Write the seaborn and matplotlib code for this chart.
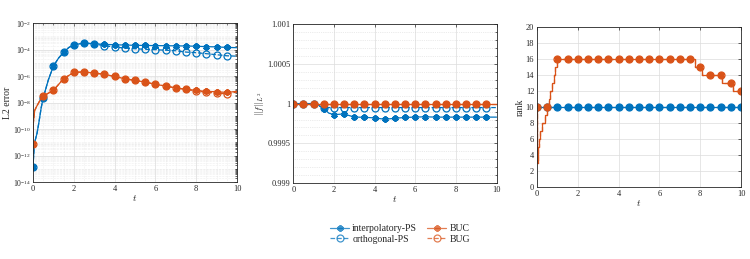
import numpy as np
import pandas as pd
import seaborn as sns
import matplotlib
matplotlib.use("Agg")
import matplotlib.pyplot as plt
from matplotlib.ticker import MultipleLocator, LogLocator, NullFormatter
from matplotlib.lines import Line2D

# ---------------- data ----------------
# panel 1 : L2 error, log10 values
t_err_ps = [0, 0.05, 0.1, 0.2, 0.3, 0.4, 0.5, 0.75, 1, 1.25, 1.5, 1.75, 2, 2.5, 3, 3.5, 4,
            4.5, 5, 5.5, 6, 6.5, 7, 7.5, 8, 8.5, 9, 9.5, 10]
log_err_interp = [-12.87, -11.5, -10.9, -10.3, -9.4, -8.4, -7.64, -6.3, -5.25, -4.65, -4.21, -3.85,
                  -3.64, -3.51, -3.56, -3.61, -3.64, -3.66, -3.68, -3.69, -3.70, -3.71, -3.72,
                  -3.73, -3.75, -3.78, -3.80, -3.84, -3.86]
log_err_ortho = [-12.87, -11.5, -10.9, -10.3, -9.4, -8.4, -7.64, -6.3, -5.25, -4.65, -4.21, -3.85,
                 -3.64, -3.51, -3.58, -3.71, -3.81, -3.89, -3.94, -3.98, -4.01, -4.05, -4.09,
                 -4.19, -4.24, -4.31, -4.39, -4.47, -4.50]
t_err_bu = [0, 0.02, 0.08, 0.18, 0.34, 0.5, 1, 1.5, 2, 2.5, 3, 3.5, 4, 4.5, 5, 5.5, 6, 6.5,
            7, 7.5, 8, 8.5, 9, 9.5, 10]
log_err_buc = [-11.16, -9.5, -8.6, -8.29, -7.84, -7.51, -7.08, -6.2, -5.72, -5.69, -5.77, -5.87,
               -6.03, -6.2, -6.33, -6.45, -6.63, -6.75, -6.9, -7.0, -7.08, -7.16, -7.18, -7.24, -7.15]
log_err_bug = [-11.16, -9.5, -8.6, -8.29, -7.84, -7.51, -7.08, -6.2, -5.72, -5.69, -5.77, -5.87,
               -6.03, -6.2, -6.33, -6.45, -6.63, -6.75, -6.9, -7.0, -7.12, -7.22, -7.28, -7.35, -7.2]

# panel 2 : norm
t_norm = [0, 0.5, 1, 1.25, 1.5, 1.75, 2, 2.5, 3, 3.5, 4, 4.5, 5, 5.5, 6, 6.5, 7, 7.5, 8, 8.5,
          9, 9.5, 10]
norm_interp = [1, 1, 1, 0.99998, 0.999937, 0.99988, 0.999861, 0.99987, 0.99983, 0.999828,
               0.99982, 0.999803, 0.999815, 0.999826, 0.99983, 0.999834, 0.99983, 0.99983,
               0.99983, 0.99983, 0.99983, 0.99983, 0.99983]
norm_ortho = [1, 1, 1, 0.99997, 0.99995, 0.99995, 0.99995, 0.99995, 0.99995, 0.99995, 0.99995,
              0.99995, 0.99995, 0.99995, 0.99995, 0.99995, 0.99995, 0.99995, 0.99995, 0.99995,
              0.99995, 0.99995, 0.99995]
norm_buc = [1] * len(t_norm)
norm_bug = [1] * len(t_norm)

# panel 3 : rank
t_rank_ps = [0, 0.5, 1, 1.5, 2, 2.5, 3, 3.5, 4, 4.5, 5, 5.5, 6, 6.5, 7, 7.5, 8, 8.5, 9, 9.5, 10]
rank_ps = [10] * len(t_rank_ps)
t_rank_bu = [0, 0.001, 0.05, 0.1, 0.16, 0.26, 0.38, 0.5, 0.51, 0.59, 0.66, 0.74, 0.84, 0.9,
             0.98, 1, 1.5, 2, 2.5, 3, 3.5, 4, 4.5, 5, 5.5, 6, 6.5, 7, 7.5, 7.75, 8, 8.08, 8.5,
             9, 9.07, 9.5, 9.6, 10]
rank_bu = [10, 3, 5, 6, 7, 8, 9, 10, 10, 11, 12, 13, 14, 15, 16, 16, 16, 16, 16, 16, 16, 16, 16,
           16, 16, 16, 16, 16, 16, 15, 15, 14, 14, 14, 13, 13, 12, 12]
t_rank_bu_mark = [0, 0.5, 1, 1.5, 2, 2.5, 3, 3.5, 4, 4.5, 5, 5.5, 6, 6.5, 7, 7.5, 8, 8.5, 9, 9.5, 10]

methods = ["interpolatory-PS", "orthogonal-PS", "BUC", "BUG"]

# ---------------- style ----------------
sns.set_theme(style="white")
plt.rcParams["font.family"] = ["Liberation Serif", "DejaVu Serif"]
plt.rcParams["mathtext.fontset"] = "cm"
plt.rcParams["xtick.direction"] = "in"
plt.rcParams["ytick.direction"] = "in"

blue = "#0072BD"
orange = "#D95319"
colors = {"interpolatory-PS": blue, "orthogonal-PS": blue, "BUC": orange, "BUG": orange}
dashes = {"interpolatory-PS": "-", "orthogonal-PS": "--", "BUC": "-", "BUG": "--"}
marks = {"interpolatory-PS": (6, 2, 0), "orthogonal-PS": "o", "BUC": (6, 2, 0), "BUG": "o"}


def draw(ax, t, y, name, mark_t=None, step=False):
    t = np.asarray(t, float)
    if mark_t is None:
        mark_t = [v for v in t if abs(v * 2 - round(v * 2)) < 1e-9 and v < 9.99]
    idx = [int(np.argmin(np.abs(t - m))) for m in mark_t]
    c = colors[name]
    circ = marks[name] == "o"
    sns.lineplot(x=t, y=y, ax=ax, sort=False, estimator=None, color=c,
                 linestyle=dashes[name], lw=0.9,
                 marker=marks[name], markevery=idx, ms=5 if circ else 4.5,
                 mfc="none" if circ else c, mec=c, mew=0.9 if circ else 1.6,
                 drawstyle="steps-post" if step else "default")


fig = plt.figure(figsize=(7.5, 2.59), dpi=100)
ax1 = fig.add_axes([0.044, 0.297, 0.272, 0.614])
ax2 = fig.add_axes([0.391, 0.293, 0.271, 0.614])
ax3 = fig.add_axes([0.716, 0.278, 0.272, 0.618])

# panel 1
for name, tt, yy in [("interpolatory-PS", t_err_ps, log_err_interp),
                     ("orthogonal-PS", t_err_ps, log_err_ortho),
                     ("BUC", t_err_bu, log_err_buc),
                     ("BUG", t_err_bu, log_err_bug)]:
    draw(ax1, tt, 10.0 ** np.array(yy), name)
ax1.set_yscale("log")
ax1.set_ylim(1e-14, 1e-2)
ax1.set_yticks([10.0 ** k for k in range(-14, -1, 2)])
ax1.yaxis.set_minor_locator(LogLocator(base=10, subs=np.arange(1, 10), numticks=30))
ax1.yaxis.set_minor_formatter(NullFormatter())
ax1.xaxis.set_minor_locator(MultipleLocator(0.5))
ax1.set_ylabel("L2 error", fontsize=7, labelpad=1)

# panel 2
for name, yy in zip(methods, [norm_interp, norm_ortho, norm_buc, norm_bug]):
    draw(ax2, t_norm, yy, name)
ax2.set_ylim(0.999, 1.001)
ax2.set_yticks([0.999, 0.9995, 1, 1.0005, 1.001])
ax2.set_yticklabels(["0.999", "0.9995", "1", "1.0005", "1.001"])
ax2.yaxis.set_minor_locator(MultipleLocator(0.0001))
ax2.set_ylabel(r"$\|f\|_{L^2}$", fontsize=7, labelpad=1)

# panel 3
draw(ax3, t_rank_ps, rank_ps, "interpolatory-PS", mark_t=t_rank_ps)
draw(ax3, t_rank_ps, rank_ps, "orthogonal-PS", mark_t=t_rank_ps)
draw(ax3, t_rank_bu, rank_bu, "BUC", mark_t=t_rank_bu_mark, step=True)
draw(ax3, t_rank_bu, rank_bu, "BUG", mark_t=t_rank_bu_mark, step=True)
ax3.set_ylim(0, 20)
ax3.yaxis.set_major_locator(MultipleLocator(2))
ax3.set_ylabel("rank", fontsize=7, labelpad=1)

for ax in (ax1, ax2, ax3):
    ax.set_xlim(0, 10)
    ax.xaxis.set_major_locator(MultipleLocator(2))
    ax.set_xlabel(r"$t$", fontsize=7, labelpad=0)
    ax.tick_params(labelsize=6, length=2.5, width=0.5, pad=2, colors="#262626",
                   top=True, right=True, which="both")
    ax.tick_params(which="minor", length=1.5)
    ax.grid(True, which="major", color="#dcdcdc", lw=0.5)
    for s in ax.spines.values():
        s.set_color("#262626")
        s.set_linewidth(0.6)
    if ax.get_legend() is not None:
        ax.get_legend().remove()

ax1.tick_params(axis="y", labelsize=5.5, pad=1.5)
ax1.grid(True, which="minor", color="#e0e0e0", lw=0.4, ls=":")
ax2.grid(True, which="minor", axis="y", color="#d8d8d8", lw=0.5, ls=":")
ax3.tick_params(which="minor", length=0)

handles = []
for name in methods:
    circ = marks[name] == "o"
    handles.append(Line2D([], [], color=colors[name], ls=dashes[name], lw=0.9, alpha=0.75,
                          marker=marks[name], ms=5 if circ else 4.5,
                          mew=0.9 if circ else 1.6,
                          mfc="none" if circ else colors[name], mec=colors[name]))
fig.legend(handles, methods, ncol=2, loc="center", bbox_to_anchor=(0.533, 0.097),
           frameon=False, fontsize=7, handlelength=2.0, handletextpad=0.3,
           columnspacing=1.0, labelspacing=0.2)

fig.savefig("out.png", dpi=100)
